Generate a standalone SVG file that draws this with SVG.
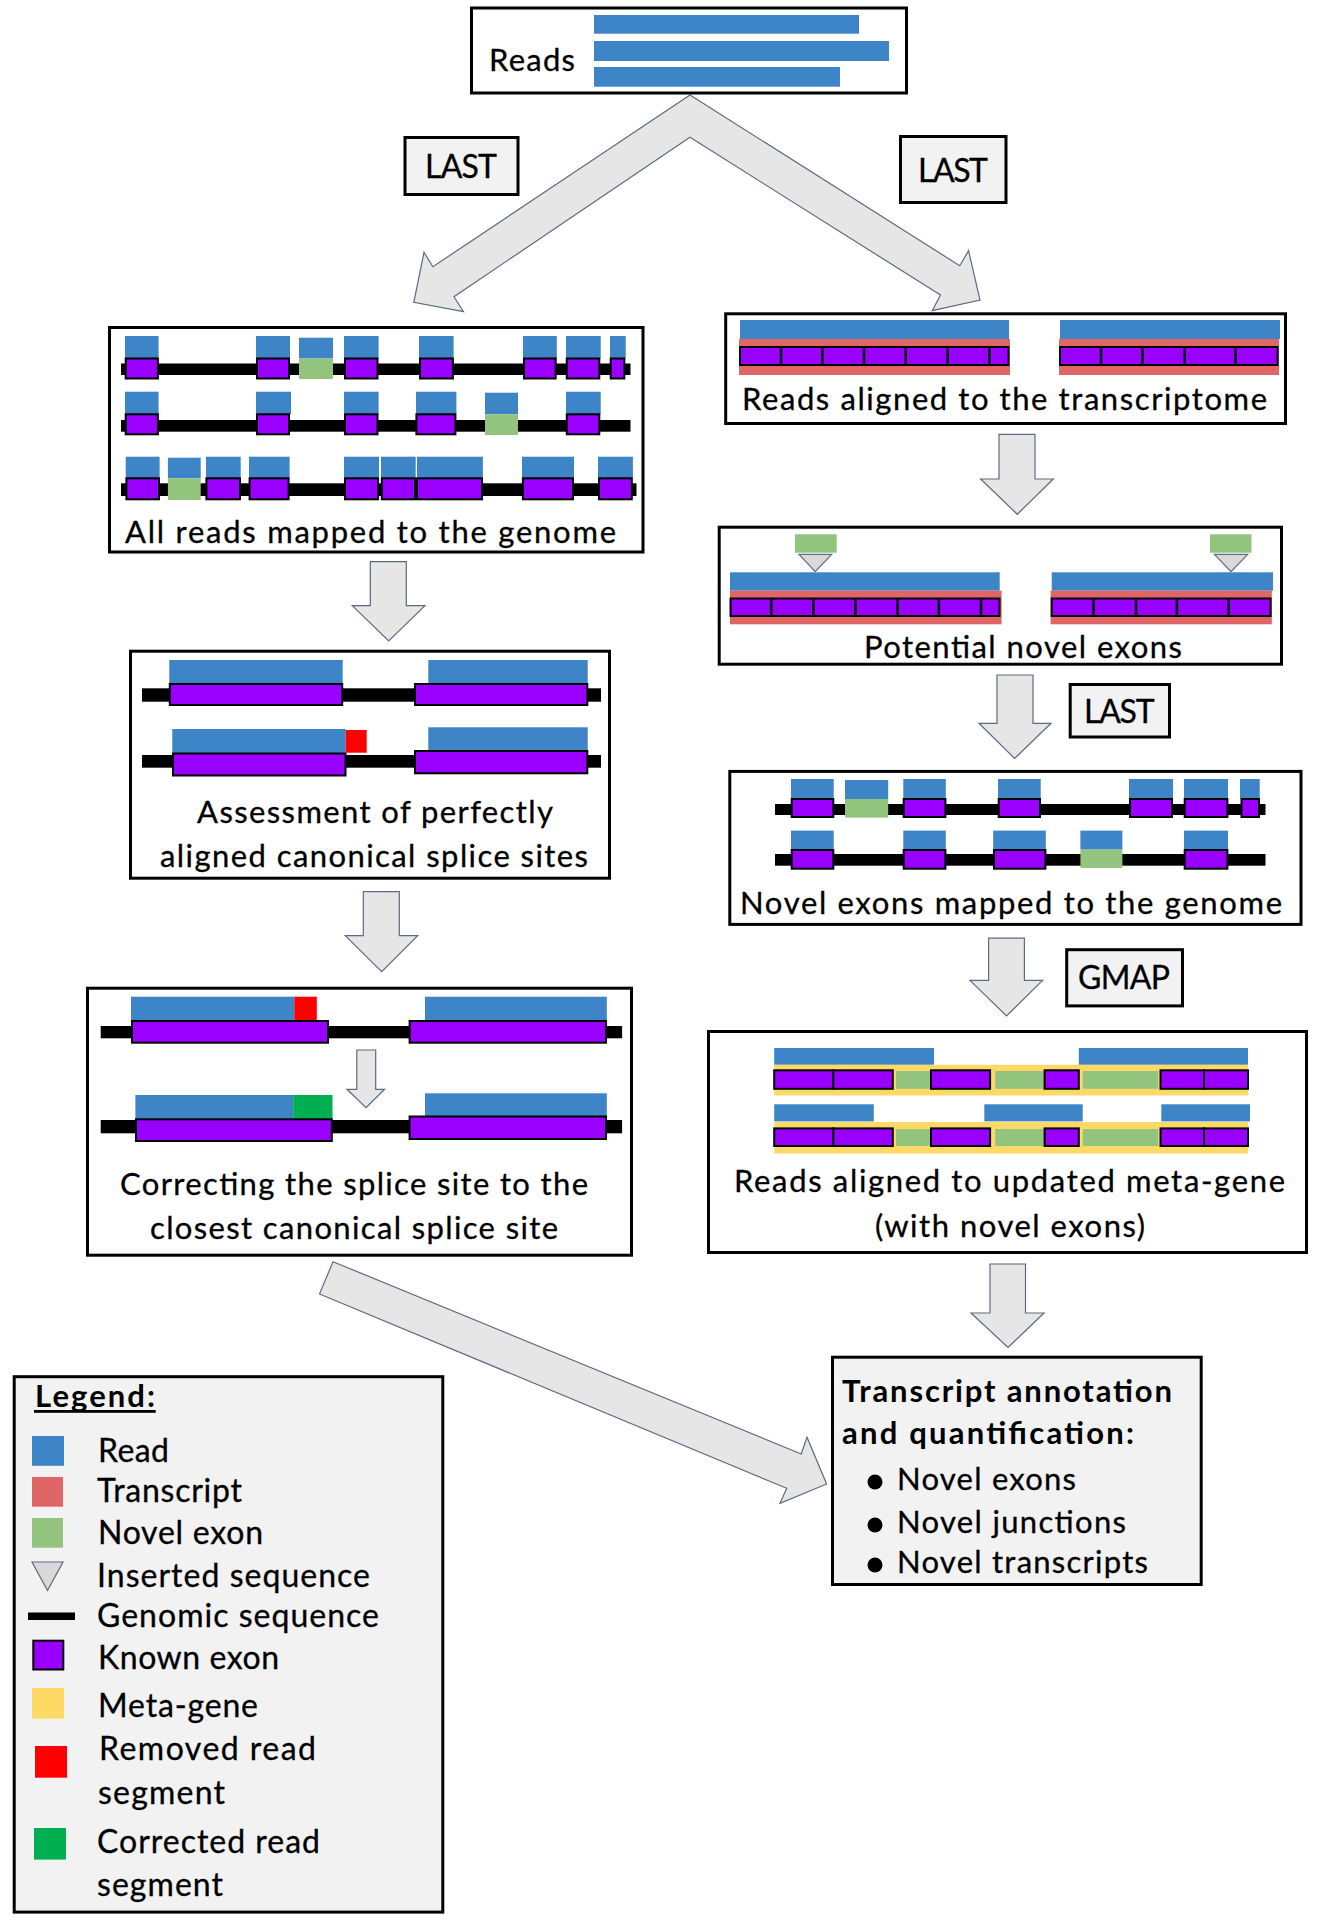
<svg xmlns="http://www.w3.org/2000/svg" width="1323" height="1928" viewBox="0 0 1323 1928">
<style>
.bg{fill:#fff}
.box{fill:#fff;stroke:#000;stroke-width:3}
.gbox{fill:#f2f2f2;stroke:#000;stroke-width:3}
.arrow{fill:#e6e6e6;stroke:#5b6b82;stroke-width:1.2;stroke-linejoin:miter}
.tri{fill:#d9d9d9;stroke:#5b6b82;stroke-width:1.2}
.read{fill:#3d85c6}
.ex{fill:#9900ff;stroke:#000;stroke-width:2}
.nov{fill:#93c47d}
.tr{fill:#e06666}
.meta{fill:#ffd966}
.gen{fill:#000}
.rem{fill:#ff0000}
.cor{fill:#00b050}
.div{stroke:#000;stroke-width:2.5}
.t{font-family:Lato,"Liberation Sans",sans-serif;font-size:31px;fill:#000;stroke:#000;stroke-width:0.3}
.tl{font-family:Lato,"Liberation Sans",sans-serif;font-size:32px;fill:#000;stroke:#000;stroke-width:0.3}
.lg{font-size:32px}
.b{font-weight:bold;stroke-width:0}
</style>
<rect class="bg" x="0" y="0" width="1323" height="1928"/>

<g id="connectors">
<polygon id="arrow-split" class="arrow" points="690,95 432.9,266.7 424,252.3 413.8,302.3 463.5,311.7 454,296.7 690,137.3 940.5,295 932.3,310.7 980,300 968.6,250.7 959.7,265.7"/>
<polygon id="arrow-genome-assess" class="arrow" points="370.3,561.7 406.3,561.7 406.3,605.7 425,605.7 388.7,641 352.3,605.7 370.3,605.7"/>
<polygon id="arrow-assess-correct" class="arrow" points="363.3,891.7 399.3,891.7 399.3,935.7 417.7,935.7 381.7,971.7 345.3,935.7 363.3,935.7"/>
<polygon id="arrow-trans-potential" class="arrow" points="999,434.3 1035,434.3 1035,479 1053.3,479 1017.3,514.3 980.7,479 999,479"/>
<polygon id="arrow-potential-novel" class="arrow" points="997,675 1033,675 1033,723.3 1051,723.3 1014.6,758.4 979,723.3 997,723.3"/>
<polygon id="arrow-novel-meta" class="arrow" points="988.6,938.2 1024.4,938.2 1024.4,980.4 1042.6,980.4 1006.5,1016 970,980.4 988.6,980.4"/>
<polygon id="arrow-meta-final" class="arrow" points="990,1264 1025.5,1264 1025.5,1313 1044,1313 1008,1347.5 971,1313 990,1313"/>
<polygon id="arrow-correct-final" class="arrow" points="333,1261.7 801.2,1454 807,1437.3 826.6,1484 780,1503.3 786.7,1488.3 319.5,1294"/>
</g>

<g id="node-reads">
<rect class="box" x="471.5" y="8" width="435" height="85"/>
<rect class="read" x="594" y="15" width="265" height="18.7"/>
<rect class="read" x="594" y="41" width="295" height="20"/>
<rect class="read" x="594" y="67" width="246" height="19.7"/>
<text class="t" x="489" y="71" font-size="32" textLength="86">Reads</text>
</g>

<g id="node-last1">
<rect class="gbox" x="405" y="137.5" width="113" height="57"/>
<text class="tl" x="425" y="178" textLength="72">LAST</text>
</g>

<g id="node-last2">
<rect class="gbox" x="900.5" y="136.5" width="105.5" height="66"/>
<text class="tl" x="918" y="181.5" textLength="70">LAST</text>
</g>

<g id="node-genome">
<rect class="box" x="109.5" y="327.5" width="533.5" height="224.5"/>
<rect class="gen" x="121" y="363.5" width="509.5" height="11.5"/>
<rect class="read" x="125" y="336" width="33.6" height="22.5"/>
<rect class="read" x="256" y="336" width="34" height="22.5"/>
<rect class="read" x="299" y="337.7" width="34" height="20.8"/>
<rect class="read" x="344" y="336" width="34.6" height="22.5"/>
<rect class="read" x="419" y="336" width="34.6" height="22.5"/>
<rect class="read" x="523" y="336" width="33.8" height="22.5"/>
<rect class="read" x="566" y="336" width="34.7" height="22.5"/>
<rect class="read" x="610" y="336" width="15.7" height="22.5"/>
<rect class="ex" x="125.7" y="358.5" width="32.2" height="20"/>
<rect class="ex" x="257" y="358.5" width="32" height="20"/>
<rect class="nov" x="299" y="358.5" width="34" height="20.5"/>
<rect class="ex" x="345" y="358.5" width="32.5" height="20"/>
<rect class="ex" x="420" y="358.5" width="32.9" height="20"/>
<rect class="ex" x="524" y="358.5" width="31.7" height="20"/>
<rect class="ex" x="566.8" y="358.5" width="32.5" height="20"/>
<rect class="ex" x="610.7" y="358.5" width="13.6" height="20"/>
<rect class="gen" x="121" y="420" width="509.5" height="11.7"/>
<rect class="read" x="125" y="391.7" width="33.6" height="22.6"/>
<rect class="read" x="256" y="391.7" width="35" height="22.6"/>
<rect class="read" x="344" y="391.7" width="34.6" height="22.6"/>
<rect class="read" x="416" y="391.7" width="40.4" height="22.6"/>
<rect class="read" x="485" y="392.7" width="33" height="21.6"/>
<rect class="read" x="566" y="391.7" width="34.7" height="22.6"/>
<rect class="ex" x="125.7" y="414.3" width="32.2" height="20"/>
<rect class="ex" x="257" y="414.3" width="32" height="20"/>
<rect class="ex" x="345" y="414.3" width="32.5" height="20"/>
<rect class="ex" x="416.4" y="414.3" width="39" height="20"/>
<rect class="nov" x="485" y="414.3" width="33" height="20.7"/>
<rect class="ex" x="566.8" y="414.3" width="32.5" height="20"/>
<rect class="gen" x="121" y="483.3" width="515.5" height="12.7"/>
<rect class="read" x="125.7" y="456.7" width="33.9" height="21.6"/>
<rect class="read" x="167.9" y="457.7" width="32.8" height="20.6"/>
<rect class="read" x="206" y="456.7" width="34.7" height="21.6"/>
<rect class="read" x="249" y="456.7" width="40.6" height="21.6"/>
<rect class="read" x="344" y="456.7" width="35" height="21.6"/>
<rect class="read" x="381" y="456.7" width="34.7" height="21.6"/>
<rect class="read" x="417" y="456.7" width="65.9" height="21.6"/>
<rect class="read" x="522" y="456.7" width="52" height="21.6"/>
<rect class="read" x="598" y="456.7" width="34.9" height="21.6"/>
<rect class="ex" x="126.4" y="478.3" width="32.6" height="21"/>
<rect class="nov" x="167.9" y="478.3" width="32.8" height="21.7"/>
<rect class="ex" x="206.4" y="478.3" width="33.6" height="21"/>
<rect class="ex" x="249.6" y="478.3" width="39" height="21"/>
<rect class="ex" x="345" y="478.3" width="33" height="21"/>
<rect class="ex" x="381.8" y="478.3" width="33.2" height="21"/>
<rect class="ex" x="417" y="478.3" width="65" height="21"/>
<rect class="ex" x="522.9" y="478.3" width="50.1" height="21"/>
<rect class="ex" x="599" y="478.3" width="32.8" height="21"/>
<text class="t" x="125" y="542.5" textLength="491">All reads mapped to the genome</text>
</g>

<g id="node-transcriptome">
<rect class="box" x="725.7" y="313.8" width="559.8" height="109.7"/>
<rect class="read" x="740" y="320" width="269" height="19"/>
<rect class="tr" x="739" y="339" width="271" height="36"/>
<rect class="ex" x="740" y="347" width="268.5" height="18"/>
<line class="div" x1="781" y1="347" x2="781" y2="365"/>
<line class="div" x1="822.3" y1="347" x2="822.3" y2="365"/>
<line class="div" x1="864" y1="347" x2="864" y2="365"/>
<line class="div" x1="905.7" y1="347" x2="905.7" y2="365"/>
<line class="div" x1="947.7" y1="347" x2="947.7" y2="365"/>
<line class="div" x1="989.3" y1="347" x2="989.3" y2="365"/>
<rect class="read" x="1060" y="320" width="220" height="19"/>
<rect class="tr" x="1059" y="339" width="220" height="36"/>
<rect class="ex" x="1060" y="347" width="217.6" height="18"/>
<line class="div" x1="1101" y1="347" x2="1101" y2="365"/>
<line class="div" x1="1142.5" y1="347" x2="1142.5" y2="365"/>
<line class="div" x1="1184.6" y1="347" x2="1184.6" y2="365"/>
<line class="div" x1="1235.5" y1="347" x2="1235.5" y2="365"/>
<text class="t" x="742" y="410" textLength="525">Reads aligned to the transcriptome</text>
</g>

<g id="node-potential">
<rect class="box" x="719.2" y="527.2" width="562.3" height="137"/>
<rect class="nov" x="795" y="534.3" width="41.7" height="18.4"/>
<rect class="nov" x="1210" y="534.3" width="41.5" height="18.4"/>
<polygon class="tri" points="799,554.3 831.7,554.3 815.2,571.7"/>
<polygon class="tri" points="1214.4,554.3 1247.7,554.3 1231,571.7"/>
<rect class="read" x="730" y="572.3" width="269.7" height="18.4"/>
<rect class="tr" x="730" y="590.7" width="271.6" height="33.6"/>
<rect class="ex" x="730.5" y="598.5" width="269" height="17.5"/>
<line class="div" x1="771.2" y1="598.5" x2="771.2" y2="616"/>
<line class="div" x1="813.3" y1="598.5" x2="813.3" y2="616"/>
<line class="div" x1="855.4" y1="598.5" x2="855.4" y2="616"/>
<line class="div" x1="897.5" y1="598.5" x2="897.5" y2="616"/>
<line class="div" x1="938.9" y1="598.5" x2="938.9" y2="616"/>
<line class="div" x1="981" y1="598.5" x2="981" y2="616"/>
<rect class="read" x="1051.7" y="572.3" width="221.3" height="18.4"/>
<rect class="tr" x="1050.6" y="590.7" width="221.2" height="33.6"/>
<rect class="ex" x="1051.7" y="598.5" width="218.9" height="17.5"/>
<line class="div" x1="1093.5" y1="598.5" x2="1093.5" y2="616"/>
<line class="div" x1="1136" y1="598.5" x2="1136" y2="616"/>
<line class="div" x1="1176.9" y1="598.5" x2="1176.9" y2="616"/>
<line class="div" x1="1228.6" y1="598.5" x2="1228.6" y2="616"/>
<text class="t" x="864" y="658" textLength="318">Potential novel exons</text>
</g>

<g id="node-last3">
<rect class="gbox" x="1070.2" y="684.5" width="99.3" height="52.5"/>
<text class="tl" x="1084" y="723" textLength="70.6">LAST</text>
</g>

<g id="node-novel-mapped">
<rect class="box" x="729.8" y="771.4" width="571.2" height="153"/>
<rect class="gen" x="775" y="804" width="490.5" height="11"/>
<rect class="read" x="791" y="779" width="42.7" height="20"/>
<rect class="read" x="845" y="780" width="43.2" height="19"/>
<rect class="read" x="903.3" y="779" width="42.5" height="20"/>
<rect class="read" x="998" y="779" width="42.7" height="20"/>
<rect class="read" x="1129" y="779" width="44" height="20"/>
<rect class="read" x="1184" y="779" width="44" height="20"/>
<rect class="read" x="1240" y="779" width="19.7" height="20"/>
<rect class="ex" x="791.7" y="799" width="41.6" height="18"/>
<rect class="nov" x="845" y="799" width="43.2" height="18.6"/>
<rect class="ex" x="903.7" y="799" width="41.7" height="18"/>
<rect class="ex" x="998.7" y="799" width="41.3" height="18"/>
<rect class="ex" x="1130" y="799" width="42" height="18"/>
<rect class="ex" x="1184.7" y="799" width="42.7" height="18"/>
<rect class="ex" x="1241.5" y="799" width="17.5" height="18"/>
<rect class="gen" x="775" y="854" width="490.5" height="11.7"/>
<rect class="read" x="791" y="830.6" width="42.7" height="19.4"/>
<rect class="read" x="903.3" y="830.6" width="42.5" height="19.4"/>
<rect class="read" x="993.2" y="830.6" width="52.6" height="19.4"/>
<rect class="read" x="1080.4" y="830.6" width="42" height="19"/>
<rect class="read" x="1184" y="830.6" width="44" height="19.4"/>
<rect class="ex" x="791.7" y="850" width="41.6" height="18.7"/>
<rect class="ex" x="903.7" y="850" width="41.7" height="18.7"/>
<rect class="ex" x="994" y="850" width="51.4" height="18.7"/>
<rect class="nov" x="1080.4" y="849.6" width="42" height="18.4"/>
<rect class="ex" x="1184.7" y="850" width="42.7" height="18.7"/>
<text class="t" x="740" y="914" textLength="542">Novel exons mapped to the genome</text>
</g>

<g id="node-gmap">
<rect class="gbox" x="1066.7" y="949.7" width="115.8" height="56.2"/>
<text class="tl" x="1078" y="989" textLength="92">GMAP</text>
</g>

<g id="node-metagene">
<rect class="box" x="708.5" y="1031.5" width="598" height="221"/>
<rect class="read" x="774.2" y="1048" width="159.9" height="16.8"/>
<rect class="read" x="1078.8" y="1048" width="169.2" height="16.8"/>
<rect class="meta" x="774.2" y="1064.8" width="473.8" height="30.7"/>
<rect class="nov" x="896" y="1071" width="34.6" height="17.8"/>
<rect class="nov" x="995.2" y="1071" width="48.6" height="17.8"/>
<rect class="nov" x="1082.7" y="1071" width="75.5" height="17.8"/>
<rect class="ex" x="774.2" y="1070.3" width="59.1" height="18.5"/>
<rect class="ex" x="833.3" y="1070.3" width="59.5" height="18.5"/>
<rect class="ex" x="931" y="1070.3" width="59.1" height="18.5"/>
<rect class="ex" x="1044.6" y="1070.3" width="34.2" height="18.5"/>
<rect class="ex" x="1160.5" y="1070.3" width="43.5" height="18.5"/>
<rect class="ex" x="1204" y="1070.3" width="44" height="18.5"/>
<rect class="read" x="774.2" y="1104.3" width="99.6" height="17.1"/>
<rect class="read" x="984.3" y="1104.3" width="98.4" height="17.1"/>
<rect class="read" x="1161.3" y="1104.3" width="88.7" height="17.1"/>
<rect class="meta" x="774.2" y="1122" width="473.8" height="31.5"/>
<rect class="nov" x="896" y="1129" width="34.6" height="17"/>
<rect class="nov" x="995.2" y="1129" width="48.6" height="17"/>
<rect class="nov" x="1082.7" y="1129" width="75.5" height="17"/>
<rect class="ex" x="774.2" y="1128.4" width="59.1" height="17.6"/>
<rect class="ex" x="833.3" y="1128.4" width="59.5" height="17.6"/>
<rect class="ex" x="931" y="1128.4" width="59.1" height="17.6"/>
<rect class="ex" x="1044.6" y="1128.4" width="34.2" height="17.6"/>
<rect class="ex" x="1160.5" y="1128.4" width="43.5" height="17.6"/>
<rect class="ex" x="1204" y="1128.4" width="44" height="17.6"/>
<text class="t" x="734" y="1192" textLength="551">Reads aligned to updated meta-gene</text>
<text class="t" x="875" y="1237" textLength="270">(with novel exons)</text>
</g>

<g id="node-assessment">
<rect class="box" x="130.5" y="651.2" width="479" height="227"/>
<rect class="gen" x="142" y="688.3" width="459" height="13.4"/>
<rect class="read" x="169.3" y="660" width="173.4" height="24"/>
<rect class="read" x="428.3" y="660" width="159.4" height="24"/>
<rect class="ex" x="169.8" y="684" width="172.4" height="21"/>
<rect class="ex" x="415" y="684" width="172.3" height="21"/>
<rect class="gen" x="142" y="755" width="459" height="12.7"/>
<rect class="read" x="172.3" y="729" width="173.4" height="24.3"/>
<rect class="rem" x="345.7" y="730" width="21" height="22.7"/>
<rect class="read" x="428.3" y="727.3" width="159.4" height="23.7"/>
<rect class="ex" x="173" y="753.5" width="172.5" height="22"/>
<rect class="ex" x="415" y="751" width="172.3" height="22.3"/>
<text class="t" x="197" y="823" textLength="356">Assessment of perfectly</text>
<text class="t" x="160" y="867" textLength="428">aligned canonical splice sites</text>
</g>

<g id="node-correcting">
<rect class="box" x="87.5" y="988.2" width="544" height="267"/>
<rect class="gen" x="100.7" y="1026" width="521.4" height="12.3"/>
<rect class="read" x="131" y="996.7" width="163.3" height="24"/>
<rect class="rem" x="294.3" y="996.7" width="22.5" height="24"/>
<rect class="read" x="425" y="996.7" width="181.8" height="24"/>
<rect class="ex" x="132" y="1021" width="196" height="21.7"/>
<rect class="ex" x="409.6" y="1021" width="196.4" height="21.7"/>
<polygon class="arrow" points="356.8,1050 375.7,1050 375.7,1089.3 384.6,1089.3 366,1107.7 347,1089.3 356.8,1089.3"/>
<rect class="gen" x="100.7" y="1120" width="521.4" height="13.3"/>
<rect class="read" x="135.4" y="1095" width="157.8" height="24.3"/>
<rect class="cor" x="293.2" y="1095" width="39.3" height="24.3"/>
<rect class="read" x="425" y="1093.3" width="181.8" height="22.7"/>
<rect class="ex" x="136" y="1119.3" width="195.8" height="21.7"/>
<rect class="ex" x="409.6" y="1116.5" width="196.4" height="22.5"/>
<text class="t" x="120" y="1195" textLength="468">Correcting the splice site to the</text>
<text class="t" x="150" y="1239" textLength="408">closest canonical splice site</text>
</g>

<g id="node-final">
<rect class="gbox" x="832.5" y="1357.2" width="368.7" height="227.3"/>
<text class="t b" x="842" y="1402" textLength="330">Transcript annotation</text>
<text class="t b" x="842" y="1444" textLength="292">and quantification:</text>
<circle cx="875" cy="1482" r="7.5" fill="#000"/>
<text class="t" x="897" y="1490" textLength="179">Novel exons</text>
<circle cx="875" cy="1525" r="7.5" fill="#000"/>
<text class="t" x="897" y="1533" textLength="229">Novel junctions</text>
<circle cx="875" cy="1565" r="7.5" fill="#000"/>
<text class="t" x="897" y="1573" textLength="251">Novel transcripts</text>
</g>

<g id="legend">
<rect class="gbox" x="14.2" y="1376.7" width="428.6" height="535.4"/>
<text class="t b" x="35" y="1407" textLength="120">Legend:</text>
<rect x="34" y="1410" width="121.7" height="2.8" fill="#000"/>
<rect class="read" x="32" y="1436" width="32" height="29.8"/>
<text class="t lg" x="98" y="1462" textLength="71">Read</text>
<rect class="tr" x="32" y="1477" width="31" height="29.7"/>
<text class="t lg" x="97" y="1502" textLength="145">Transcript</text>
<rect class="nov" x="32" y="1518" width="31" height="29.7"/>
<text class="t lg" x="98" y="1544" textLength="165">Novel exon</text>
<polygon class="tri" points="32,1562 63,1562 47.5,1590.5"/>
<text class="t lg" x="97" y="1587" textLength="273">Inserted sequence</text>
<rect class="gen" x="28" y="1612.5" width="47" height="7.5"/>
<text class="t lg" x="97" y="1627" textLength="282">Genomic sequence</text>
<rect class="ex" x="33.3" y="1640.7" width="30" height="28.8"/>
<text class="t lg" x="98" y="1669" textLength="181">Known exon</text>
<rect class="meta" x="32" y="1688" width="32" height="30.7"/>
<text class="t lg" x="98" y="1717" textLength="160">Meta-gene</text>
<rect class="rem" x="35" y="1746" width="32" height="31.7"/>
<text class="t lg" x="99" y="1760" textLength="217">Removed read</text>
<text class="t lg" x="98" y="1804" textLength="127">segment</text>
<rect class="cor" x="34" y="1828" width="32" height="31.6"/>
<text class="t lg" x="97" y="1853" textLength="223">Corrected read</text>
<text class="t lg" x="97" y="1896" textLength="126">segment</text>
</g>
</svg>
